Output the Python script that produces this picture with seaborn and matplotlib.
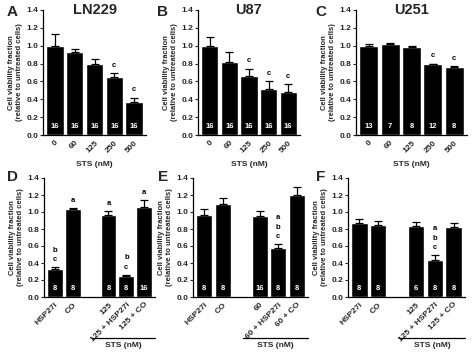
import numpy as np
import pandas as pd
import seaborn as sns
import matplotlib
matplotlib.use('Agg')
import matplotlib.pyplot as plt
import matplotlib.transforms as mtransforms

# top row: STS dose response
sts_doses = ['0', '60', '125', '250', '500']

ln229_mean = [1.00, 0.93, 0.80, 0.65, 0.37]
ln229_sd = [0.13, 0.03, 0.05, 0.04, 0.05]
ln229_n = [16, 16, 16, 16, 16]
ln229_sig = ['', '', '', 'c', 'c']

u87_mean = [1.00, 0.82, 0.66, 0.52, 0.48]
u87_sd = [0.10, 0.11, 0.08, 0.08, 0.09]
u87_n = [16, 16, 16, 16, 16]
u87_sig = ['', '', 'c', 'c', 'c']

u251_mean = [1.00, 1.02, 0.99, 0.79, 0.76]
u251_sd = [0.02, 0.006, 0.005, 0.01, 0.01]
u251_n = [13, 7, 8, 12, 8]
u251_sig = ['', '', '', 'c', 'c']

# bottom row: HSP27 inhibitor combos
d_groups = ['HSP27i', 'CO', '125', '125 + HSP27i', '125 + CO']
d_mean = [0.33, 1.03, 0.97, 0.25, 1.06]
d_sd = [0.02, 0.02, 0.04, 0.006, 0.08]
d_n = [8, 8, 8, 8, 16]
d_sig = ['b\nc', 'a', 'a', 'b\nc', 'a']

e_groups = ['HSP27i', 'CO', '60', '60 + HSP27i', '60 + CO']
e_mean = [0.96, 1.10, 0.95, 0.58, 1.20]
e_sd = [0.08, 0.06, 0.06, 0.04, 0.09]
e_n = [8, 8, 16, 8, 8]
e_sig = ['', '', '', 'a\nb\nc', '']

f_groups = ['HSP27i', 'CO', '125', '125 + HSP27i', '125 + CO']
f_mean = [0.87, 0.85, 0.84, 0.44, 0.82]
f_sd = [0.05, 0.04, 0.04, 0.05, 0.05]
f_n = [8, 8, 6, 8, 8]
f_sig = ['', '', '', 'a\nb\nc', '']

sns.set_theme(style='ticks')
plt.rcParams['font.family'] = ['Liberation Sans', 'DejaVu Sans']
plt.rcParams['font.weight'] = 'bold'
plt.rcParams['axes.labelweight'] = 'bold'

W, H = 474, 358
fig = plt.figure(figsize=(W / 100, H / 100), dpi=100)


def make_ax(left, right, top, bottom):
    return fig.add_axes([left / W, 1 - bottom / H, (right - left) / W, (bottom - top) / H])


def draw_panel(ax, labels, means, sds, ns, sig, gap=False):
    order = labels[:2] + [' '] + labels[2:] if gap else list(labels)
    df = pd.DataFrame({'group': labels, 'value': means})
    sns.barplot(data=df, x='group', y='value', order=order, color='black',
                saturation=1, width=0.88, errorbar=None, ax=ax)
    xpos = [order.index(l) for l in labels]
    ax.errorbar(xpos, means, yerr=[np.zeros(len(sds)), sds], fmt='none',
                ecolor='black', elinewidth=0.9, capsize=3, capthick=0.9)
    for x, m, s, n, t in zip(xpos, means, sds, ns, sig):
        ax.text(x, 0.1, str(n), color='white', fontsize=5.5, ha='center', va='center')
        if t:
            ax.text(x, m + s + 0.05, t, color='black', fontsize=5.5, ha='center',
                    va='bottom', linespacing=1.5)
    ax.set_ylim(0, 1.4)
    ax.set_yticks(np.arange(0, 1.41, 0.2))
    ax.set_yticklabels([f'{v:.1f}' for v in np.arange(0, 1.41, 0.2)])
    ax.set_xlim(-0.6, len(order) - 0.4)
    ax.set_xticks(xpos)
    ax.set_xticklabels(labels, rotation=45, ha='right', rotation_mode='anchor')
    ax.set_xlabel('')
    ax.set_ylabel('Cell viability fraction\n(relative to untreated cells)',
                  fontsize=5.5, labelpad=2, linespacing=1.2)
    ax.tick_params(axis='y', labelsize=6, length=2, width=0.8, pad=1.5)
    ax.tick_params(axis='x', labelsize=6, length=0, pad=3)
    for sp in ['left', 'bottom']:
        ax.spines[sp].set_linewidth(0.9)
        ax.spines[sp].set_color('black')
    sns.despine(ax=ax)


# top row
top_specs = [
    ((43, 146), 'LN229', ln229_mean, ln229_sd, ln229_n, ln229_sig, 'A', 12),
    ((198, 300), 'U87', u87_mean, u87_sd, u87_n, u87_sig, 'B', 163),
    ((356, 467), 'U251', u251_mean, u251_sd, u251_n, u251_sig, 'C', 321),
]
for (l, r), title, m, s, n, sig, letter, lx in top_specs:
    ax = make_ax(l, r, 10, 135)
    draw_panel(ax, sts_doses, m, s, n, sig)
    ax.text(0.5, 1.0, title, transform=ax.transAxes, ha='center', va='center', fontsize=10.5)
    ax.text(0.5, -0.24, 'STS (nM)', transform=ax.transAxes, ha='center', va='center', fontsize=6)
    fig.text(lx / W, 1 - 12 / H, letter, fontsize=11, ha='center', va='center')

# bottom row
bottom_specs = [
    ((44, 155), d_groups, d_mean, d_sd, d_n, d_sig, 'D', 12),
    ((193, 308), e_groups, e_mean, e_sd, e_n, e_sig, 'E', 163),
    ((348, 465), f_groups, f_mean, f_sd, f_n, f_sig, 'F', 321),
]
for (l, r), groups, m, s, n, sig, letter, lx in bottom_specs:
    ax = make_ax(l, r, 178, 297)
    draw_panel(ax, groups, m, s, n, sig, gap=True)
    trans = mtransforms.blended_transform_factory(ax.transData, ax.transAxes)
    ax.plot([2.1, 5.6], [-0.345, -0.345], color='black', lw=0.9, transform=trans, clip_on=False)
    ax.text(3.85, -0.41, 'STS (nM)', transform=trans, ha='center', va='center', fontsize=6)
    fig.text(lx / W, 1 - 177 / H, letter, fontsize=11, ha='center', va='center')

fig.savefig('out.png', dpi=100, facecolor='white')
